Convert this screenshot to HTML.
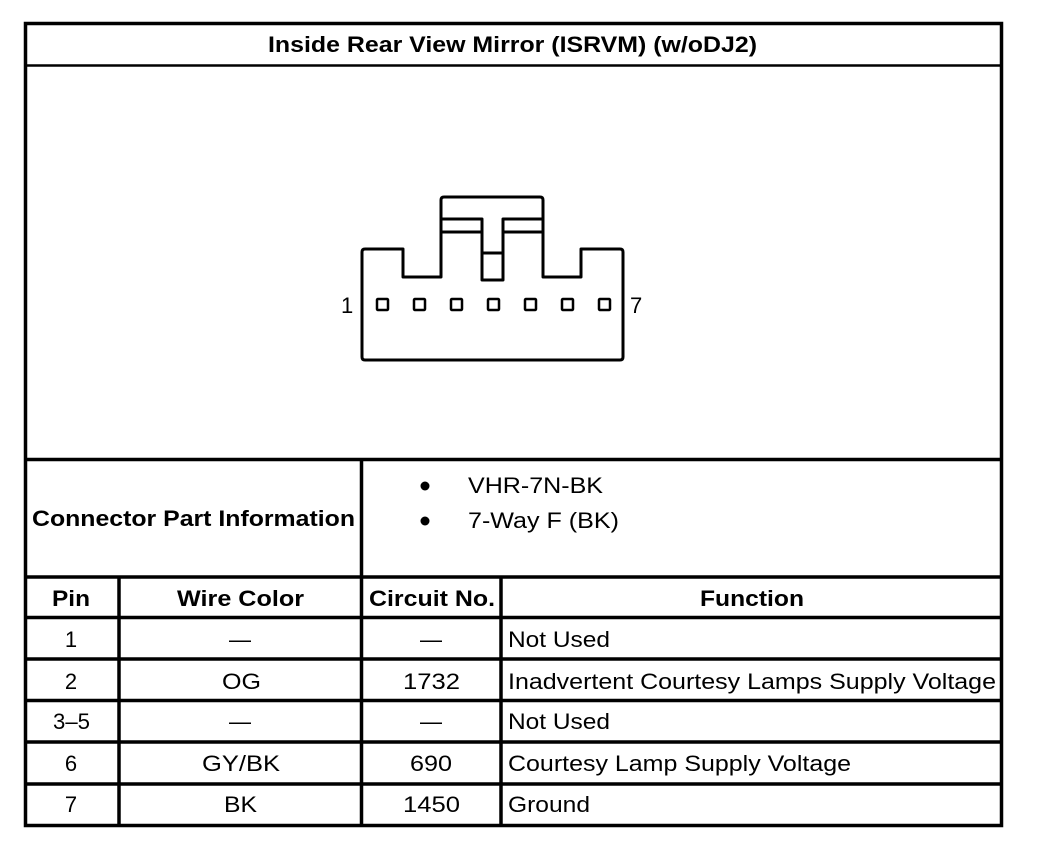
<!DOCTYPE html>
<html><head><style>
body{margin:0;background:#fff;}
svg{display:block;}
text{font-family:"Liberation Sans",Arial,sans-serif;font-size:22px;fill:#000;}
.b{font-weight:bold;}
</style></head><body>
<svg width="1056" height="856" viewBox="0 0 1056 856">
<g stroke="#000" stroke-width="3.5" fill="none">
<rect x="25.5" y="23.5" width="976" height="802"/>
<line x1="25" y1="65.5" x2="1002" y2="65.5" stroke-width="2.5"/>
<line x1="25" y1="459.5" x2="1002" y2="459.5"/>
<line x1="25" y1="577" x2="1002" y2="577"/>
<line x1="25" y1="617.5" x2="1002" y2="617.5"/>
<line x1="25" y1="659" x2="1002" y2="659"/>
<line x1="25" y1="700.5" x2="1002" y2="700.5"/>
<line x1="25" y1="742" x2="1002" y2="742"/>
<line x1="25" y1="784" x2="1002" y2="784"/>
<line x1="361.5" y1="459" x2="361.5" y2="826"/>
<line x1="119" y1="577" x2="119" y2="826"/>
<line x1="501" y1="577" x2="501" y2="826"/>
</g>
<g stroke="#000" stroke-width="3" fill="none" stroke-linejoin="round">
<path d="M362,252 Q362,249 365,249 L403,249 L403,277 L441,277 L441,200 Q441,197 444,197 L540,197 Q543,197 543,200 L543,277 L581,277 L581,249 L620,249 Q623,249 623,252 L623,357 Q623,360 620,360 L365,360 Q362,360 362,357 Z"/>
<path d="M441,219 L482,219 L482,280 L503,280 L503,219 L543,219"/>
<line x1="441" y1="232" x2="482" y2="232"/>
<line x1="503" y1="232" x2="543" y2="232"/>
<line x1="482" y1="253" x2="503" y2="253"/>
</g>
<g stroke="#000" stroke-width="2.5" fill="none">
<rect x="377" y="299" width="11" height="11" rx="1"/>
<rect x="414" y="299" width="11" height="11" rx="1"/>
<rect x="451" y="299" width="11" height="11" rx="1"/>
<rect x="488" y="299" width="11" height="11" rx="1"/>
<rect x="525" y="299" width="11" height="11" rx="1"/>
<rect x="562" y="299" width="11" height="11" rx="1"/>
<rect x="599" y="299" width="11" height="11" rx="1"/>
</g>
<text x="341" y="313">1</text>
<text x="630" y="313">7</text>
<text class="b" x="268" y="52" textLength="489" lengthAdjust="spacingAndGlyphs">Inside Rear View Mirror (ISRVM) (w/oDJ2)</text>
<text class="b" x="32" y="526" textLength="323" lengthAdjust="spacingAndGlyphs">Connector Part Information</text>
<circle cx="425" cy="486" r="4.5"/>
<circle cx="425" cy="521" r="4.5"/>
<text x="468" y="493" textLength="135" lengthAdjust="spacingAndGlyphs">VHR-7N-BK</text>
<text x="468" y="528" textLength="151" lengthAdjust="spacingAndGlyphs">7-Way F (BK)</text>
<text class="b" x="52" y="606" textLength="38" lengthAdjust="spacingAndGlyphs">Pin</text>
<text class="b" x="177" y="606" textLength="127" lengthAdjust="spacingAndGlyphs">Wire Color</text>
<text class="b" x="369" y="606" textLength="126" lengthAdjust="spacingAndGlyphs">Circuit No.</text>
<text class="b" x="700" y="606" textLength="104" lengthAdjust="spacingAndGlyphs">Function</text>
<text x="71" y="647" text-anchor="middle">1</text>
<text x="240" y="647" text-anchor="middle">—</text>
<text x="431" y="647" text-anchor="middle">—</text>
<text x="508" y="647" textLength="102" lengthAdjust="spacingAndGlyphs">Not Used</text>
<text x="71" y="689" text-anchor="middle">2</text>
<text x="222" y="689" textLength="39" lengthAdjust="spacingAndGlyphs">OG</text>
<text x="403" y="689" textLength="57" lengthAdjust="spacingAndGlyphs">1732</text>
<text x="508" y="689" textLength="488" lengthAdjust="spacingAndGlyphs">Inadvertent Courtesy Lamps Supply Voltage</text>
<text x="53" y="729" textLength="37" lengthAdjust="spacingAndGlyphs">3–5</text>
<text x="240" y="729" text-anchor="middle">—</text>
<text x="431" y="729" text-anchor="middle">—</text>
<text x="508" y="729" textLength="102" lengthAdjust="spacingAndGlyphs">Not Used</text>
<text x="71" y="771" text-anchor="middle">6</text>
<text x="202" y="771" textLength="78" lengthAdjust="spacingAndGlyphs">GY/BK</text>
<text x="410" y="771" textLength="42" lengthAdjust="spacingAndGlyphs">690</text>
<text x="508" y="771" textLength="343" lengthAdjust="spacingAndGlyphs">Courtesy Lamp Supply Voltage</text>
<text x="71" y="812" text-anchor="middle">7</text>
<text x="224" y="812" textLength="33" lengthAdjust="spacingAndGlyphs">BK</text>
<text x="403" y="812" textLength="57" lengthAdjust="spacingAndGlyphs">1450</text>
<text x="508" y="812" textLength="82" lengthAdjust="spacingAndGlyphs">Ground</text>
</svg>
</body></html>
